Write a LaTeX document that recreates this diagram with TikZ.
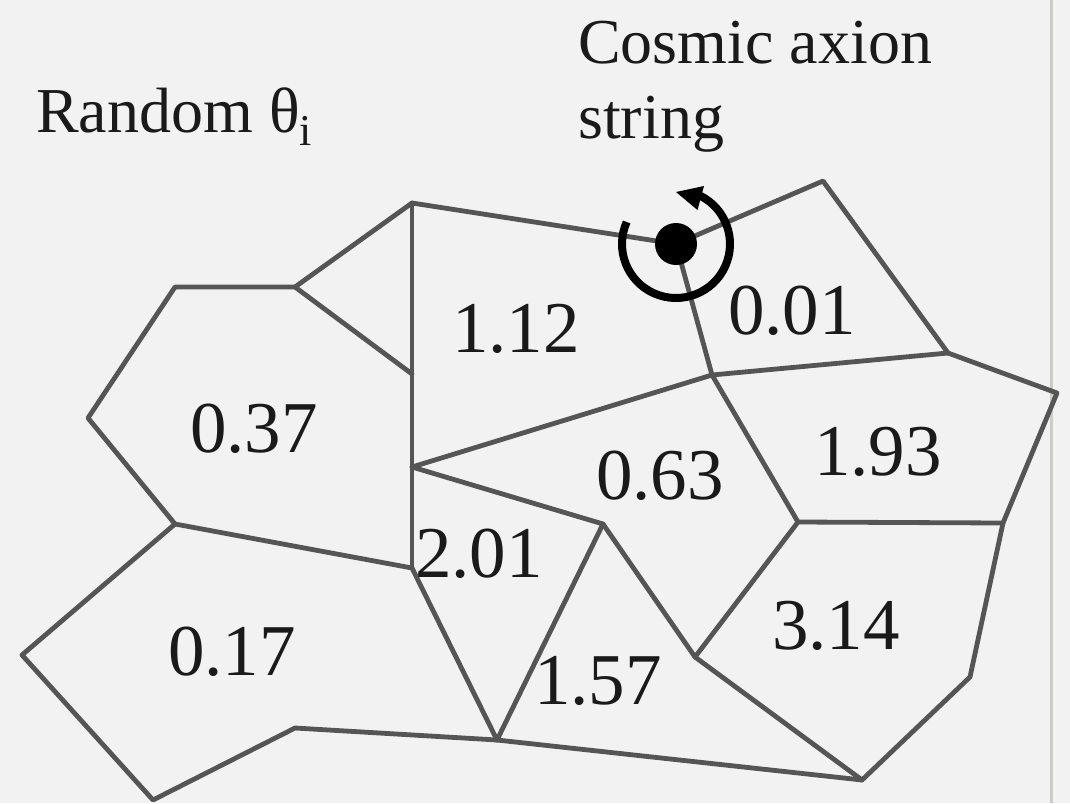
\documentclass[tikz,border=0pt]{standalone}
\usepackage{fontspec}
\setmainfont{Liberation Serif}
\definecolor{bg}{HTML}{F2F2F2}
\definecolor{edge}{HTML}{555555}
\definecolor{frame}{HTML}{CCCCC4}
\definecolor{ink}{HTML}{1A1A1A}
\tikzset{
  wall/.style={draw=edge, line width=4.8pt, line join=round, line cap=round},
  val/.style={inner sep=0pt, text=ink, font=\fontsize{73}{80}\selectfont},
  title/.style={inner sep=0pt, anchor=base west, text=ink, font=\fontsize{64}{78}\selectfont},
}
\begin{document}
\begin{tikzpicture}[x=1pt, y=-1pt]
\fill[bg] (0,0) rectangle (1070,803);
\useasboundingbox (0,0) rectangle (1070,803);
\draw[frame, line width=3pt] (1051,0) -- (1051,803);

% vertices
\coordinate (A) at (412,203);
\coordinate (B) at (412,374);
\coordinate (C) at (295,287);
\coordinate (D) at (175,287);
\coordinate (E) at (88,418);
\coordinate (F) at (175,524);
\coordinate (G) at (412,568);
\coordinate (H) at (412,467);
\coordinate (I) at (712,375);
\coordinate (J) at (603,524);
\coordinate (K) at (676,244);
\coordinate (L) at (823,181);
\coordinate (M) at (948,353);
\coordinate (N) at (1057,393);
\coordinate (O) at (1003,523);
\coordinate (P) at (798,522);
\coordinate (Q) at (695,657);
\coordinate (R) at (970,677);
\coordinate (S) at (862,780);
\coordinate (T) at (497,740);
\coordinate (U) at (295,728);
\coordinate (V) at (153,800);
\coordinate (W) at (22,655);

% outer boundary
\draw[wall] (A) -- (K) -- (L) -- (M) -- (N) -- (O) -- (R) -- (S) -- (T) -- (U) -- (V) -- (W) -- (F) -- (E) -- (D) -- (C) -- (A);
% inner walls
\draw[wall] (A) -- (G);
\draw[wall] (C) -- (B);
\draw[wall] (F) -- (G) -- (T);
\draw[wall] (H) -- (I);
\draw[wall] (H) -- (J) -- (T);
\draw[wall] (J) -- (Q) -- (P) -- (O);
\draw[wall] (P) -- (I) -- (M);
\draw[wall] (I) -- (K);
\draw[wall] (Q) -- (S);

% string
\fill[black] (K) circle[radius=21];
\begin{scope}[shift={(K)}, y=1pt]
\draw[black, line width=8pt] (156:54) arc[start angle=156, end angle=423, radius=54];
\end{scope}
\coordinate (tipA) at (676,192);
\coordinate (tipB) at (704,186);
\coordinate (tipC) at (697.5,210);
\fill[black] (tipA) -- (tipB) -- (tipC) -- cycle;

% labels
\node[val] (v1) at (516,329) {1.12};
\node[val] (v2) at (792,311) {0.01};
\node[val] (v3) at (254,429) {0.37};
\node[val] (v4) at (660,476) {0.63};
\node[val] (v5) at (878,452) {1.93};
\node[val] (v6) at (479,554) {2.01};
\node[val] (v7) at (836,626) {3.14};
\node[val] (v8) at (232,652) {0.17};
\node[val] (v9) at (598,681) {1.57};

\node[title] (rnd) at (36,132) {Random θ\raisebox{-13pt}{\fontsize{44}{44}\selectfont i}};
\node[title] (cas1) at (578,63) {Cosmic axion};
\node[title] (cas2) at (578,138) {string};
\end{tikzpicture}
\end{document}
